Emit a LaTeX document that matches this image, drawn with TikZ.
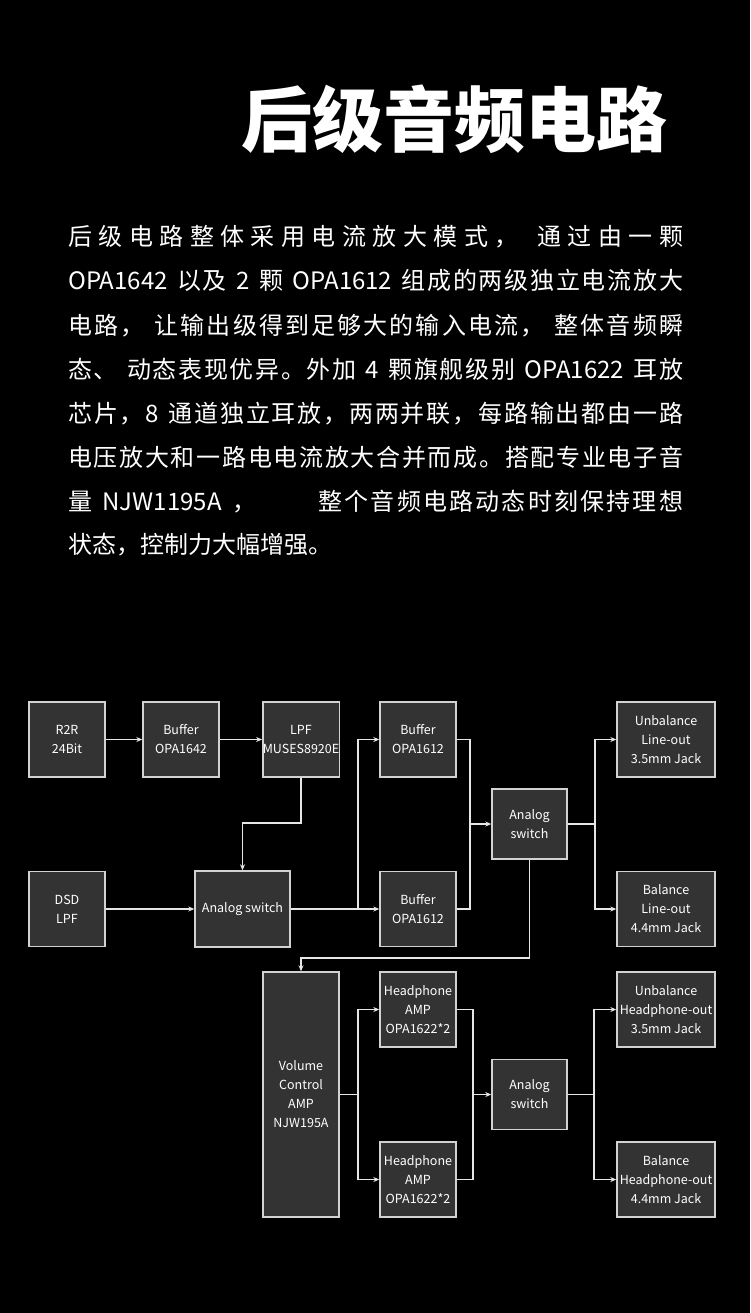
\documentclass[tikz,border=0pt]{standalone}
\usepackage{fontspec}
\setmainfont{Noto Sans CJK SC}
\usetikzlibrary{arrows.meta,positioning,calc}
\definecolor{panel}{HTML}{333333}
\definecolor{edge}{HTML}{D2D2D2}
\definecolor{wire}{HTML}{E6E6E6}
\ExplSyntaxOn
\NewDocumentCommand{\fullline}{m}
  {\makebox[615pt][s]{\tl_map_inline:nn {#1} {##1\hskip 0pt plus 1pt}\unskip}}
\ExplSyntaxOff
\newcommand{\gap}{\hspace*{6pt}}
\tikzset{
  blk/.style={draw=edge, fill=panel, line width=1.4pt, text=white, align=center,
              inner sep=0pt, font=\fontsize{12.5}{19}\selectfont,
              minimum width=76pt, minimum height=75pt},
  outblk/.style={blk, minimum width=98pt},
  swblk/.style={blk, minimum width=75pt, minimum height=70pt},
  ln/.style={draw=wire, line width=1.3pt},
  ar/.style={ln, -{Stealth[length=6pt,width=5pt]}},
  txt/.style={text=white, anchor=base west, inner sep=0pt, font=\fontsize{24}{24}\selectfont}
}
\begin{document}
\begin{tikzpicture}[x=1pt,y=-1pt]
  \fill[black] (0,0) rectangle (750,1313);

  \node[text=white, anchor=base, inner sep=0pt, font=\fontsize{71}{71}\selectfont\bfseries] (title) at (454,147) {后级音频电路};

  \node[txt] (l1) at (68,246) {\fullline{后级电路整体采用电流放大模式，\gap 通过由一颗}};
  \node[txt] (l2) at (68,290) {\fullline{{OPA1642}\gap 以及\gap 2\gap 颗\gap {OPA1612}\gap 组成的两级独立电流放大}};
  \node[txt] (l3) at (68,334) {\fullline{电路，\gap 让输出级得到足够大的输入电流，\gap 整体音频瞬}};
  \node[txt] (l4) at (68,378) {\fullline{态、\gap 动态表现优异。外加\gap 4\gap 颗旗舰级别\gap {OPA1622}\gap 耳放}};
  \node[txt] (l5) at (68,422) {\fullline{芯片，{8}\gap 通道独立耳放，两两并联，每路输出都由一路}};
  \node[txt] (l6) at (68,466) {\fullline{电压放大和一路电电流放大合并而成。搭配专业电子音}};
  \node[txt] (l7) at (68,510) {\fullline{量\gap {NJW1195A}\gap ，{\hspace*{58pt}}整个音频电路动态时刻保持理想}};
  \node[txt] (l8) at (68,553) {状态，控制力大幅增强。};

  \node[blk] (r2r)  at (67,739.5)  {R2R\\24Bit};
  \node[blk] (buf1) at (181,739.5) {Buffer\\OPA1642};
  \node[blk] (lpf)  at (301,739.5) {LPF\\MUSES8920E};
  \node[blk] (dsd)  at (67,909)    {DSD\\LPF};
  \node[blk, minimum width=95pt, minimum height=76pt] (sw1) at (242.5,909) {Analog switch};
  \node[blk] (buf2) at (418,739.5) {Buffer\\OPA1612};
  \node[blk] (buf3) at (418,909)   {Buffer\\OPA1612};
  \node[swblk] (sw2) at (529.5,824) {Analog\\switch};
  \node[outblk] (out1) at (666,739.5) {Unbalance\\Line-out\\3.5mm Jack};
  \node[outblk] (out2) at (666,909)   {Balance\\Line-out\\4.4mm Jack};

  \node[blk, minimum height=245pt] (vol) at (301,1094.5) {Volume\\Control\\AMP\\NJW195A};
  \node[blk] (hp1) at (418,1009.5) {Headphone\\AMP\\OPA1622*2};
  \node[blk] (hp2) at (418,1179.5) {Headphone\\AMP\\OPA1622*2};
  \node[swblk] (sw3) at (529.5,1094.5) {Analog\\switch};
  \node[outblk] (out3) at (666,1009.5) {Unbalance\\Headphone-out\\3.5mm Jack};
  \node[outblk] (out4) at (666,1179.5) {Balance\\Headphone-out\\4.4mm Jack};

  \coordinate (k1) at (301,823);
  \coordinate (j1) at (358,909);
  \coordinate (j2) at (470,824);
  \coordinate (j3) at (595,824);
  \coordinate (k2) at (529.5,958);
  \coordinate (j4) at (358,1094.5);
  \coordinate (j5) at (473,1094.5);
  \coordinate (j6) at (594,1094.5);

  \draw[ar] (r2r) -- (buf1);
  \draw[ar] (buf1) -- (lpf);
  \draw[ar] (lpf.south) -- (k1) -| (sw1.north);
  \draw[ar] (dsd) -- (sw1);
  \draw[ar] (sw1) -- (buf3);
  \draw[ar] (j1) |- (buf2.west);
  \draw[ln] (buf2.east) -| (j2);
  \draw[ln] (buf3.east) -| (j2);
  \draw[ar] (j2) -- (sw2.west);
  \draw[ln] (sw2.east) -- (j3);
  \draw[ar] (j3) |- (out1.west);
  \draw[ar] (j3) |- (out2.west);
  \draw[ar] (sw2.south) -- (k2) -| (vol.north);

  \draw[ln] (vol.east) -- (j4);
  \draw[ar] (j4) |- (hp1.west);
  \draw[ar] (j4) |- (hp2.west);
  \draw[ln] (hp1.east) -| (j5);
  \draw[ln] (hp2.east) -| (j5);
  \draw[ar] (j5) -- (sw3.west);
  \draw[ln] (sw3.east) -- (j6);
  \draw[ar] (j6) |- (out3.west);
  \draw[ar] (j6) |- (out4.west);
\end{tikzpicture}
\end{document}
